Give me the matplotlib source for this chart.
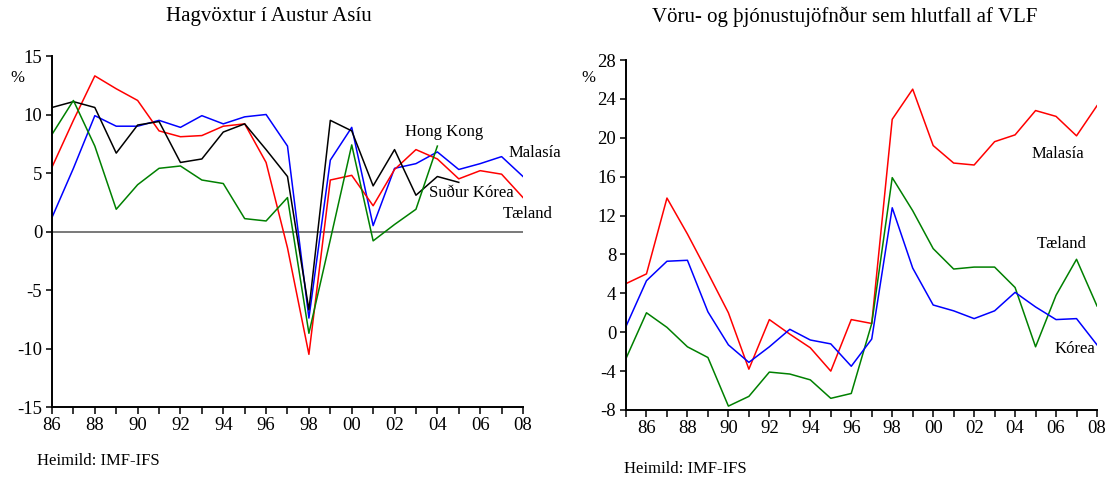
import numpy as np
import matplotlib
matplotlib.use("Agg")
import matplotlib.pyplot as plt
from matplotlib.ticker import MultipleLocator, FixedLocator

plt.rcParams["font.family"] = ["Liberation Serif", "DejaVu Serif"]
plt.rcParams["axes.unicode_minus"] = False

# Hagvöxtur (left)
years_l = list(range(1986, 2009))
malasia_l = [1.2, 5.4, 9.9, 9.0, 9.0, 9.5, 8.9, 9.9, 9.2, 9.8, 10.0, 7.3, -7.4, 6.1, 8.9, 0.5,
             5.4, 5.8, 6.8, 5.3, 5.8, 6.4, 4.7]
taeland_l = [5.5, 9.5, 13.3, 12.2, 11.2, 8.6, 8.1, 8.2, 9.0, 9.2, 5.9, -1.4, -10.5, 4.4, 4.8, 2.2,
             5.3, 7.0, 6.2, 4.5, 5.2, 4.9, 2.9]
years_kor = list(range(1986, 2006))
sudur_korea = [10.6, 11.1, 10.6, 6.7, 9.1, 9.4, 5.9, 6.2, 8.5, 9.2, 7.0, 4.7, -6.7, 9.5, 8.6, 3.9,
               7.0, 3.1, 4.7, 4.2]
years_hk = list(range(1986, 2005))
hong_kong = [8.3, 11.2, 7.3, 1.9, 4.0, 5.4, 5.6, 4.4, 4.1, 1.1, 0.9, 2.9, -8.7, -0.7, 7.4, -0.8,
             0.6, 1.9, 7.3]

# Vöru- og þjónustujöfnuður (right)
years_r = list(range(1985, 2009))
malasia_r = [5.0, 6.0, 13.8, 10.1, 6.1, 2.0, -3.8, 1.3, -0.2, -1.6, -4.0, 1.3, 0.9, 21.9, 25.0,
             19.2, 17.4, 17.2, 19.6, 20.3, 22.8, 22.2, 20.2, 23.3]
taeland_r = [-2.7, 2.0, 0.5, -1.5, -2.6, -7.6, -6.6, -4.1, -4.3, -4.9, -6.8, -6.3, 0.9, 15.9, 12.5,
             8.6, 6.5, 6.7, 6.7, 4.6, -1.5, 3.8, 7.5, 2.7]
korea_r = [0.6, 5.3, 7.3, 7.4, 2.1, -1.3, -3.1, -1.5, 0.3, -0.8, -1.2, -3.5, -0.7, 12.8, 6.6,
           2.8, 2.2, 1.4, 2.2, 4.1, 2.6, 1.3, 1.4, -1.3]

W, H = 1107, 478
fig = plt.figure(figsize=(W / 100, H / 100), dpi=100)

def style_axes(ax, x0, x1, y0, y1, ystep):
    ax.set_xlim(x0, x1)
    ax.set_ylim(y0, y1)
    for s in ["top", "right"]:
        ax.spines[s].set_visible(False)
    for s in ["left", "bottom"]:
        ax.spines[s].set_linewidth(1.4)
    ax.xaxis.set_major_locator(FixedLocator(list(range(1986, 2009, 2))))
    ax.xaxis.set_minor_locator(MultipleLocator(1))
    ax.set_xticklabels(["%02d" % (y % 100) for y in range(1986, 2009, 2)])
    ax.yaxis.set_major_locator(MultipleLocator(ystep))
    ax.tick_params(axis="both", which="both", direction="out", width=1.1, labelsize=13.5)
    ax.tick_params(axis="x", which="both", length=5, pad=2)
    ax.tick_params(axis="y", length=4, pad=3)
    ax.patch.set_alpha(0)

# left chart
ax1 = fig.add_axes([52 / W, 1 - 407 / H, 471 / W, 351 / H])
style_axes(ax1, 1986, 2008, -15, 15, 5)
ax1.axhline(0, color="#555555", lw=1.1, zorder=1)
ax1.plot(years_l, malasia_l, color="#0000ff", lw=1.1)
ax1.plot(years_l, taeland_l, color="#ff0000", lw=1.1)
ax1.plot(years_kor, sudur_korea, color="black", lw=1.1)
ax1.plot(years_hk, hong_kong, color="#008000", lw=1.1)
ax1.text(2004.3, 8.5, "Hong Kong", fontsize=12, ha="center", va="center")
ax1.text(2008.55, 6.7, "Malasía", fontsize=12, ha="center", va="center", clip_on=False)
ax1.text(2005.6, 3.25, "Suður Kórea", fontsize=12, ha="center", va="center")
ax1.text(2008.2, 1.5, "Tæland", fontsize=12, ha="center", va="center", clip_on=False)

# right chart
ax2 = fig.add_axes([626 / W, 1 - 410 / H, 471 / W, 350 / H])
style_axes(ax2, 1985, 2008, -8, 28, 4)
ax2.plot(years_r, malasia_r, color="#ff0000", lw=1.1)
ax2.plot(years_r, taeland_r, color="#008000", lw=1.1)
ax2.plot(years_r, korea_r, color="#0000ff", lw=1.1)
ax2.text(2006.1, 18.3, "Malasía", fontsize=12, ha="center", va="center")
ax2.text(2006.3, 9.1, "Tæland", fontsize=12, ha="center", va="center")
ax2.text(2006.9, -1.7, "Kórea", fontsize=12, ha="center", va="center")

fig.text(269 / W, 1 - 17 / H, "Hagvöxtur í Austur Asíu", fontsize=15, ha="center", va="center")
fig.text(845 / W, 1 - 17 / H, "Vöru- og þjónustujöfnður sem hlutfall af VLF", fontsize=15,
         ha="center", va="center")
fig.text(17 / W, 1 - 78 / H, "%", fontsize=12, ha="center", va="center")
fig.text(588 / W, 1 - 78 / H, "%", fontsize=12, ha="center", va="center")
fig.text(37 / W, 1 - 461 / H, "Heimild: IMF-IFS", fontsize=12, ha="left", va="center")
fig.text(624 / W, 1 - 469 / H, "Heimild: IMF-IFS", fontsize=12, ha="left", va="center")

plt.savefig("out.png", dpi=100)
